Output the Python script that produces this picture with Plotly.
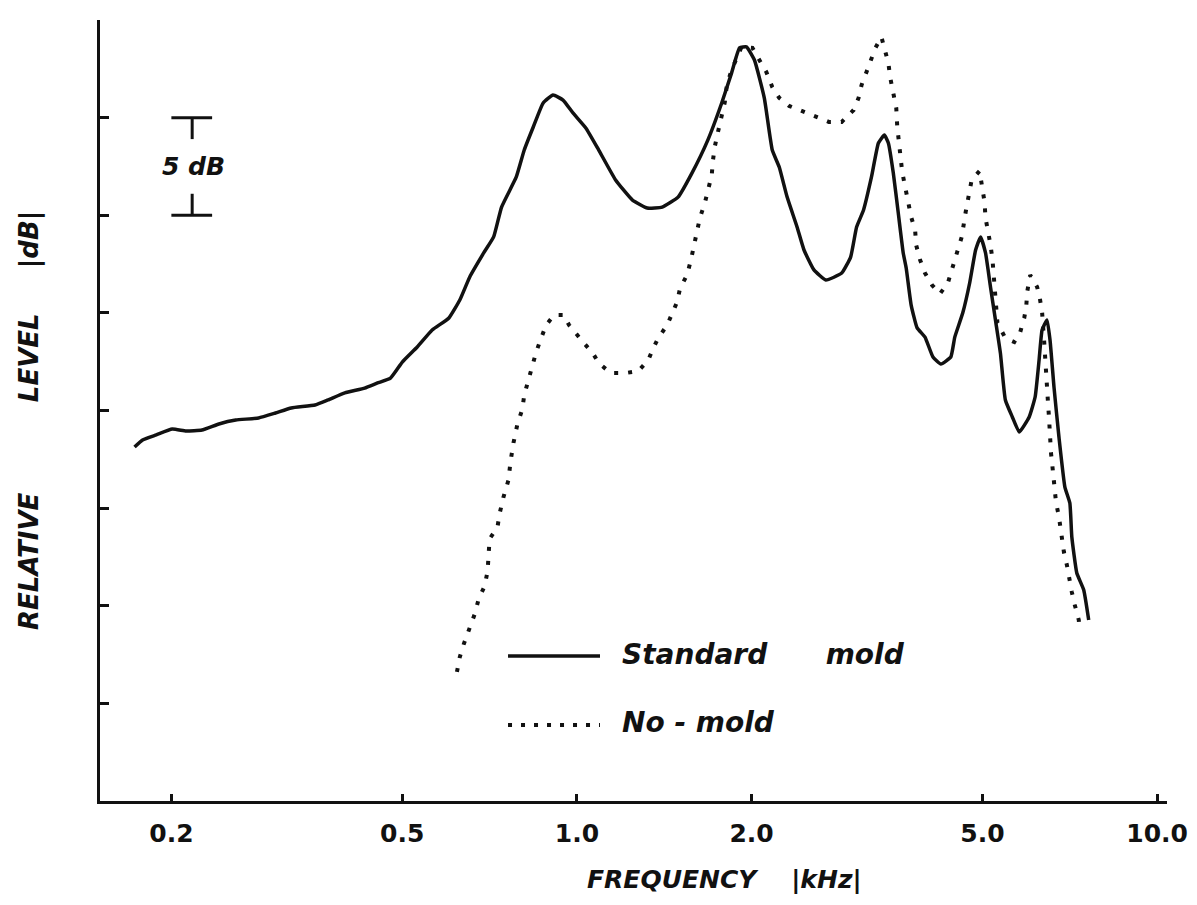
import plotly.graph_objects as go

# ---------------- data ----------------
# Standard mold (solid)
std_freq = [0.1728, 0.1784, 0.1884, 0.2007, 0.2121, 0.2258, 0.2415, 0.2582, 0.2827, 0.3022,
            0.3219, 0.3537, 0.3724, 0.3981, 0.4307, 0.4533, 0.4772, 0.5001, 0.5306, 0.5630,
            0.6017, 0.6283, 0.6536, 0.6908, 0.7186, 0.7416, 0.7862, 0.8114, 0.8410, 0.8747,
            0.9097, 0.9464, 0.9844, 1.0360, 1.0905, 1.1659, 1.2467, 1.3224, 1.4028, 1.4940,
            1.5786, 1.6813, 1.7766, 1.8478, 1.9069, 1.9602, 2.0229, 2.1040, 2.1713, 2.2321,
            2.3034, 2.3959, 2.4628, 2.5619, 2.6856, 2.8606, 2.9636, 3.0345, 3.1193, 3.2191,
            3.3091, 3.3881, 3.4419, 3.5103, 3.5801, 3.6512, 3.6946, 3.7682, 3.8582, 3.9811,
            4.1085, 4.2400, 4.4103, 4.4803, 4.6238, 4.7530, 4.8665, 4.9633, 5.0618, 5.1625,
            5.2652, 5.3698, 5.4766, 5.6297, 5.7870, 6.0195, 6.1633, 6.2612, 6.3356, 6.4616,
            6.5383, 6.6422, 6.7742, 6.9360, 7.0737, 7.1296, 7.2713, 7.4747, 7.6234]
std_db = [18.13, 18.49, 18.75, 19.05, 18.95, 19.00, 19.31, 19.51, 19.62, 19.87,
          20.13, 20.28, 20.54, 20.90, 21.15, 21.41, 21.66, 22.48, 23.25, 24.12,
          24.74, 25.66, 26.84, 28.07, 28.89, 30.42, 31.96, 33.34, 34.52, 35.75,
          36.16, 35.90, 35.24, 34.47, 33.34, 31.81, 30.78, 30.37, 30.42, 30.93,
          32.16, 33.85, 35.75, 37.29, 38.57, 38.62, 37.95, 36.00, 33.34, 32.47,
          30.93, 29.40, 28.22, 27.20, 26.68, 27.04, 27.86, 29.40, 30.27, 31.96,
          33.70, 34.11, 33.70, 32.16, 30.12, 28.07, 27.30, 25.40, 24.23, 23.76,
          22.74, 22.38, 22.74, 23.76, 24.99, 26.53, 28.22, 28.89, 28.07, 26.33,
          24.64, 22.94, 20.54, 19.67, 18.90, 19.67, 20.69, 22.59, 24.12, 24.64,
          23.61, 21.20, 18.64, 16.08, 15.26, 13.52, 11.68, 10.81, 9.27]

# No-mold (dotted)
nomold_freq = [0.6212, 0.6283, 0.6383, 0.6536, 0.6667, 0.6772, 0.6934, 0.7016, 0.7043, 0.7071,
               0.7297, 0.7356, 0.7473, 0.7622, 0.7682, 0.7774, 0.7898, 0.8054, 0.8114, 0.8245,
               0.8377, 0.8509, 0.8678, 0.8851, 0.9135, 0.9501, 0.9690, 1.0039, 1.0279, 1.0650,
               1.0905, 1.1432, 1.2129, 1.2764, 1.3276, 1.3540, 1.3809, 1.4310, 1.4594, 1.4884,
               1.5061, 1.5482, 1.5724, 1.5911, 1.6100, 1.6291, 1.6615, 1.6813, 1.7079, 1.7146,
               1.7281, 1.7487, 1.7766, 1.7989, 1.8131, 1.8478, 1.9220, 2.0070, 2.0630, 2.1206,
               2.1713, 2.2321, 2.3216, 2.4434, 2.5821, 2.7175, 2.8606, 2.9988, 3.0584, 3.0948,
               3.1563, 3.2065, 3.2702, 3.3484, 3.4015, 3.4419, 3.4691, 3.5103, 3.5520, 3.5660,
               3.5938, 3.6079, 3.6364, 3.6796, 3.7240, 3.7682, 3.8280, 3.8431, 3.9040, 3.9811,
               4.0924, 4.2234, 4.3586, 4.4452, 4.5336, 4.6056, 4.6787, 4.7343, 4.7905, 4.9437,
               4.9828, 5.0419, 5.0618, 5.1220, 5.1625, 5.2042, 5.2247, 5.2453, 5.2652, 5.3068,
               5.4766, 5.6742, 5.8098, 5.9022, 5.9489, 5.9723, 6.0432, 6.2120, 6.2859, 6.3356,
               6.3857, 6.4108, 6.4360, 6.4616, 6.4870, 6.5127, 6.5383, 6.5641, 6.6161, 6.6422,
               6.6948, 6.7742, 6.8276, 6.9087, 6.9907, 7.0459, 7.1296, 7.2142, 7.3289, 7.3564]
nomold_db = [6.61, 7.38, 8.04, 8.81, 9.58, 10.35, 11.01, 11.78, 12.65, 13.42,
             14.03, 14.70, 15.57, 16.44, 17.36, 18.34, 19.31, 20.08, 20.79, 21.56,
             22.33, 23.00, 23.71, 24.38, 24.89, 24.89, 24.38, 23.87, 23.46, 22.94,
             22.43, 21.92, 21.92, 22.02, 22.59, 23.20, 23.71, 24.38, 24.99, 25.56,
             26.27, 26.94, 27.71, 28.48, 29.14, 29.86, 30.63, 31.29, 32.06, 32.73,
             33.50, 34.21, 35.03, 35.80, 36.67, 37.44, 38.62, 38.57, 37.95, 37.34,
             36.57, 36.01, 35.60, 35.34, 35.03, 34.78, 34.78, 35.39, 36.01, 36.67,
             37.34, 37.95, 38.57, 39.13, 38.36, 37.80, 37.03, 36.26, 35.49, 34.52,
             33.75, 33.09, 32.22, 31.45, 30.68, 29.91, 29.24, 28.48, 27.71, 27.04,
             26.43, 25.97, 26.53, 27.35, 28.22, 28.89, 30.17, 30.93, 31.81, 32.27,
             31.50, 30.68, 29.86, 29.14, 28.48, 27.71, 26.94, 26.07, 25.25, 24.48,
             23.71, 23.51, 24.02, 24.74, 25.30, 26.07, 26.94, 26.33, 25.66, 25.04,
             23.61, 22.59, 21.82, 21.05, 20.38, 19.62, 18.64, 17.82, 16.85, 16.08,
             15.31, 14.55, 13.73, 12.75, 12.09, 11.42, 10.70, 10.04, 9.27, 8.66]

# axis ticks
x_tickvals = [0.2, 0.5, 1.0, 2.0, 5.0, 10.0]
x_ticktext = ["0.2", "0.5", "1.0", "2.0", "5.0", "10.0"]
y_tickvals = [0, 5, 10, 15, 20, 25, 30, 35, 40]

# 5 dB scale bar (left, middle, right frequency; bottom / top level)
bar_freq = [0.2, 0.2172, 0.2351]
bar_db = [30.0, 35.0]
bar_stem = 1.1  # length of the little vertical stems, dB

# ---------------- figure ----------------
INK = "#111111"
FONT = "DejaVu Sans"
NB = "\u00a0"

fig = go.Figure()

fig.add_trace(go.Scatter(
    x=std_freq, y=std_db, mode="lines", name="Standard mold",
    line=dict(color=INK, width=3.5, shape="spline", smoothing=0.4),
    showlegend=False))

fig.add_trace(go.Scatter(
    x=nomold_freq, y=nomold_db, mode="lines", name="No-mold",
    line=dict(color=INK, width=4, dash="4px,10px"),
    showlegend=False))

# scale bar drawn as a small line trace
sb_x = [bar_freq[0], bar_freq[2], None, bar_freq[1], bar_freq[1], None,
        bar_freq[0], bar_freq[2], None, bar_freq[1], bar_freq[1]]
sb_y = [bar_db[1], bar_db[1], None, bar_db[1], bar_db[1] - bar_stem, None,
        bar_db[0], bar_db[0], None, bar_db[0], bar_db[0] + bar_stem]
fig.add_trace(go.Scatter(x=sb_x, y=sb_y, mode="lines", showlegend=False,
                         line=dict(color=INK, width=3), hoverinfo="skip"))

title_font = dict(family=FONT, size=26, color=INK, weight="bold", style="italic")
legend_font = dict(family=FONT, size=28, color=INK, weight="bold", style="italic")

annotations = [
    dict(text="RELATIVE" + NB * 10 + "LEVEL" + NB * 5 + "|dB|",
         xref="paper", yref="paper", x=-0.0656, y=0.4866,
         xanchor="center", yanchor="middle", textangle=-90,
         showarrow=False, font=title_font),
    dict(text="FREQUENCY" + NB * 4 + "|kHz|",
         xref="paper", yref="paper", x=0.5855, y=-0.1005,
         xanchor="center", yanchor="middle",
         showarrow=False,
         font=dict(family=FONT, size=25, color=INK, weight="bold", style="italic")),
    dict(text="5 dB", xref="paper", yref="paper", x=0.088, y=0.813,
         xanchor="center", yanchor="middle", showarrow=False,
         font=dict(family=FONT, size=25, color=INK, weight="bold", style="italic")),
    dict(text="Standard" + NB * 6 + "mold", xref="paper", yref="paper",
         x=0.4873, y=0.187, xanchor="left", yanchor="middle",
         showarrow=False, font=legend_font),
    dict(text="No - mold", xref="paper", yref="paper",
         x=0.4873, y=0.0999, xanchor="left", yanchor="middle",
         showarrow=False, font=legend_font),
]

shapes = [
    dict(type="line", xref="paper", yref="paper", x0=0.3824, x1=0.4686,
         y0=0.1857, y1=0.1857, line=dict(color=INK, width=3.5)),
    dict(type="line", xref="paper", yref="paper", x0=0.3824, x1=0.4686,
         y0=0.0973, y1=0.0973, line=dict(color=INK, width=4, dash="4px,9px")),
]

# the page body adds an 8 px margin all round; the figure is sized to fit exactly
fig.update_layout(
    width=1181, height=889,
    margin=dict(l=92, r=22, t=12, b=96, autoexpand=False),
    paper_bgcolor="white", plot_bgcolor="white",
    annotations=annotations, shapes=shapes,
    showlegend=False,
    xaxis=dict(
        type="log", range=[-0.822, 1.0171], automargin=False,
        tickvals=x_tickvals, ticktext=x_ticktext,
        ticks="inside", ticklen=7, tickwidth=3, tickcolor=INK,
        showline=True, linecolor=INK, linewidth=3,
        showgrid=False, zeroline=False, ticklabelstandoff=8,
        ticklabeloverflow="allow",
        tickfont=dict(family=FONT, size=25, color=INK, weight="bold"),
    ),
    yaxis=dict(
        range=[0, 40], tickvals=y_tickvals, showticklabels=False,
        automargin=False,
        ticks="inside", ticklen=9, tickwidth=3, tickcolor=INK,
        showline=True, linecolor=INK, linewidth=3,
        showgrid=False, zeroline=False,
    ),
)

fig.write_html("out.html")
